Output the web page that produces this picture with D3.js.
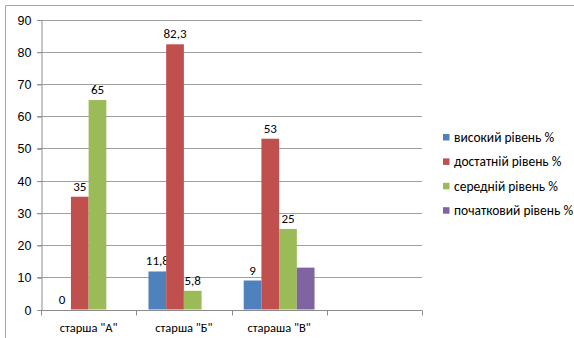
<!DOCTYPE html>
<html><head><meta charset="utf-8">
<script src="https://cdn.jsdelivr.net/npm/d3@7"></script>
<style>
body{margin:0;background:#fff;}
svg{display:block;font-family:Carlito,"Open Sans",sans-serif;}
</style></head>
<body>
<svg id="c" width="574" height="338"></svg>
<script>
const categories = ['старша "А"', 'старша "Б"', 'стараша "В"', ''];
const seriesNames = ['високий рівень %', 'достатній рівень %', 'середній рівень %', 'початковий рівень %'];
const seriesColors = ['#4f81bd', '#c0504d', '#9bbb59', '#8064a2'];
const visokiy = [0, 11.8, 9, null];
const dostatniy = [35, 82.3, 53, null];
const seredniy = [65, 5.8, 25, null];
const pochatkoviy = [null, null, 13, null];
const seriesLabelled = [true, true, true, false];
const yTicks = [0, 10, 20, 30, 40, 50, 60, 70, 80, 90];

const series = [visokiy, dostatniy, seredniy, pochatkoviy];
const svg = d3.select('#c');
const fmt = v => String(v).replace('.', ',');

const pLeft = 41, pRight = 422, pTop = 19.5, pBottom = 309.5;
const x = d3.scaleBand().domain(d3.range(categories.length)).range([pLeft, pRight]).padding(0);
const xs = d3.scaleBand().domain(d3.range(series.length)).range([0, x.bandwidth()]).paddingInner(0).paddingOuter(0.69);
const y = d3.scaleLinear().domain([0, 90]).range([pBottom, pTop]);

// outer border (top and left visible)
svg.append('line').attr('x1', 5.5).attr('x2', 574).attr('y1', 5.5).attr('y2', 5.5).attr('stroke', '#a6a6a6');
svg.append('line').attr('x1', 5.5).attr('x2', 5.5).attr('y1', 5.5).attr('y2', 338).attr('stroke', '#a6a6a6');

// gridlines
svg.append('g').selectAll('line').data(yTicks.filter(t => t > 0)).join('line')
  .attr('x1', pLeft - 4).attr('x2', pRight).attr('y1', d => Math.round(y(d)) + 0.5).attr('y2', d => Math.round(y(d)) + 0.5)
  .attr('stroke', '#a0a0a0').attr('stroke-width', 1);

// y axis
const yAxis = svg.append('g').attr('transform', `translate(${pLeft + 0.5},0.5)`)
  .call(d3.axisLeft(y).tickValues(yTicks).tickSize(4).tickPadding(6));
yAxis.select('.domain').attr('stroke', '#8c8c8c');
yAxis.selectAll('.tick line').attr('stroke', '#8c8c8c');
yAxis.selectAll('text').attr('font-size', 12.5).attr('fill', '#000').attr('font-family', null);

// bars
const g = svg.append('g');
series.forEach((vals, si) => {
  const data = vals.map((v, ci) => ({v, ci})).filter(d => d.v !== null);
  g.append('g').selectAll('rect').data(data).join('rect')
    .attr('x', d => x(d.ci) + xs(si))
    .attr('width', xs.bandwidth())
    .attr('y', d => y(d.v))
    .attr('height', d => y(0) - y(d.v))
    .attr('fill', seriesColors[si]);
  if (seriesLabelled[si]) {
    g.append('g').selectAll('text').data(data).join('text')
      .attr('x', d => x(d.ci) + xs(si) + xs.bandwidth() / 2)
      .attr('y', d => y(d.v) - 6)
      .attr('text-anchor', 'middle').attr('font-size', 13).attr('fill', '#000')
      .text(d => fmt(d.v));
  }
});

// x axis
const xAxis = svg.append('g').attr('transform', `translate(0,${Math.round(pBottom) + 0.5})`);
xAxis.append('line').attr('x1', pLeft).attr('x2', pRight).attr('stroke', '#8c8c8c');
xAxis.selectAll('line.t').data(d3.range(categories.length + 1)).join('line').attr('class', 't')
  .attr('x1', i => Math.round(pLeft + i * x.step()) + 0.5).attr('x2', i => Math.round(pLeft + i * x.step()) + 0.5)
  .attr('y1', 0).attr('y2', 5).attr('stroke', '#8c8c8c');
xAxis.selectAll('text').data(categories).join('text')
  .attr('x', (d, i) => x(i) + x.bandwidth() / 2).attr('y', 21)
  .attr('text-anchor', 'middle').attr('font-size', 12.5).attr('fill', '#000')
  .text(d => d);

// legend
const lg = svg.append('g').attr('transform', 'translate(443,134)');
seriesNames.forEach((n, i) => {
  const row = lg.append('g').attr('transform', `translate(0,${i * 24.4})`);
  row.append('rect').attr('width', 6.5).attr('height', 6.5).attr('fill', seriesColors[i]);
  row.append('text').attr('x', 11).attr('y', 8).attr('font-size', 13.5).attr('fill', '#000').text(n);
});
</script>
</body></html>
